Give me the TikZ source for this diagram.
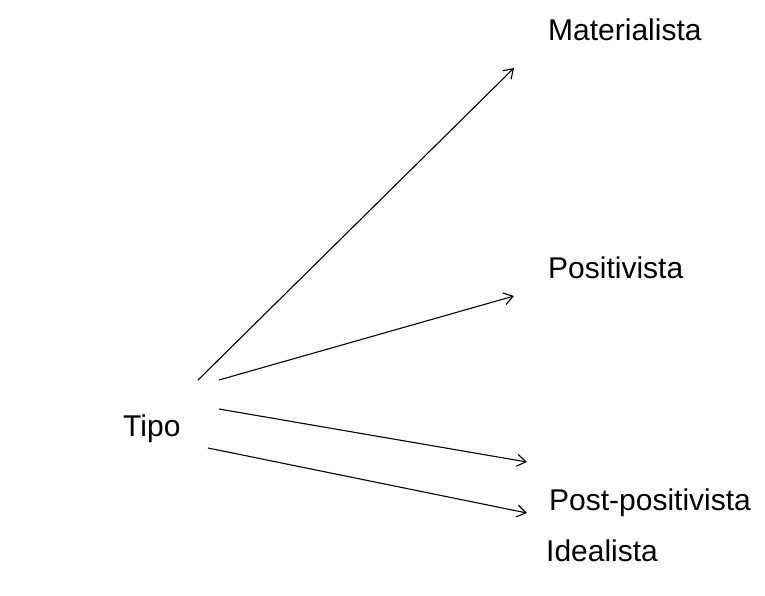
\documentclass[tikz,border=0pt]{standalone}
\usepackage{fontspec}
\setmainfont{Liberation Sans}
\usetikzlibrary{arrows.meta}
\begin{document}
\begin{tikzpicture}[x=1pt,y=-1pt,
  lbl/.style={anchor=base west,inner sep=0pt,font=\fontsize{30}{35}\selectfont},
  conn/.style={line width=1.1pt,-{Straight Barb[length=9pt,width=12pt,line width=1.1pt]}}]
\useasboundingbox (0,0) rectangle (765,595);
\node[lbl] (mat) at (548,40) {Materialista};
\node[lbl] (pos) at (548,278) {Positivista};
\node[lbl] (post) at (549,510) {Post-positivista};
\node[lbl] (ide) at (546,561) {Idealista};
\node[lbl] (tipo) at (123,436) {Tipo};
\coordinate (s1) at (198,380);
\coordinate (s2) at (219,380);
\coordinate (s3) at (219,409);
\coordinate (s4) at (208,448);
\coordinate (e1) at (514,68);
\coordinate (e2) at (514,296);
\coordinate (e3) at (527,462);
\coordinate (e4) at (527,513);
\draw[conn] (s1) -- (e1);
\draw[conn] (s2) -- (e2);
\draw[conn] (s3) -- (e3);
\draw[conn] (s4) -- (e4);
\end{tikzpicture}
\end{document}
